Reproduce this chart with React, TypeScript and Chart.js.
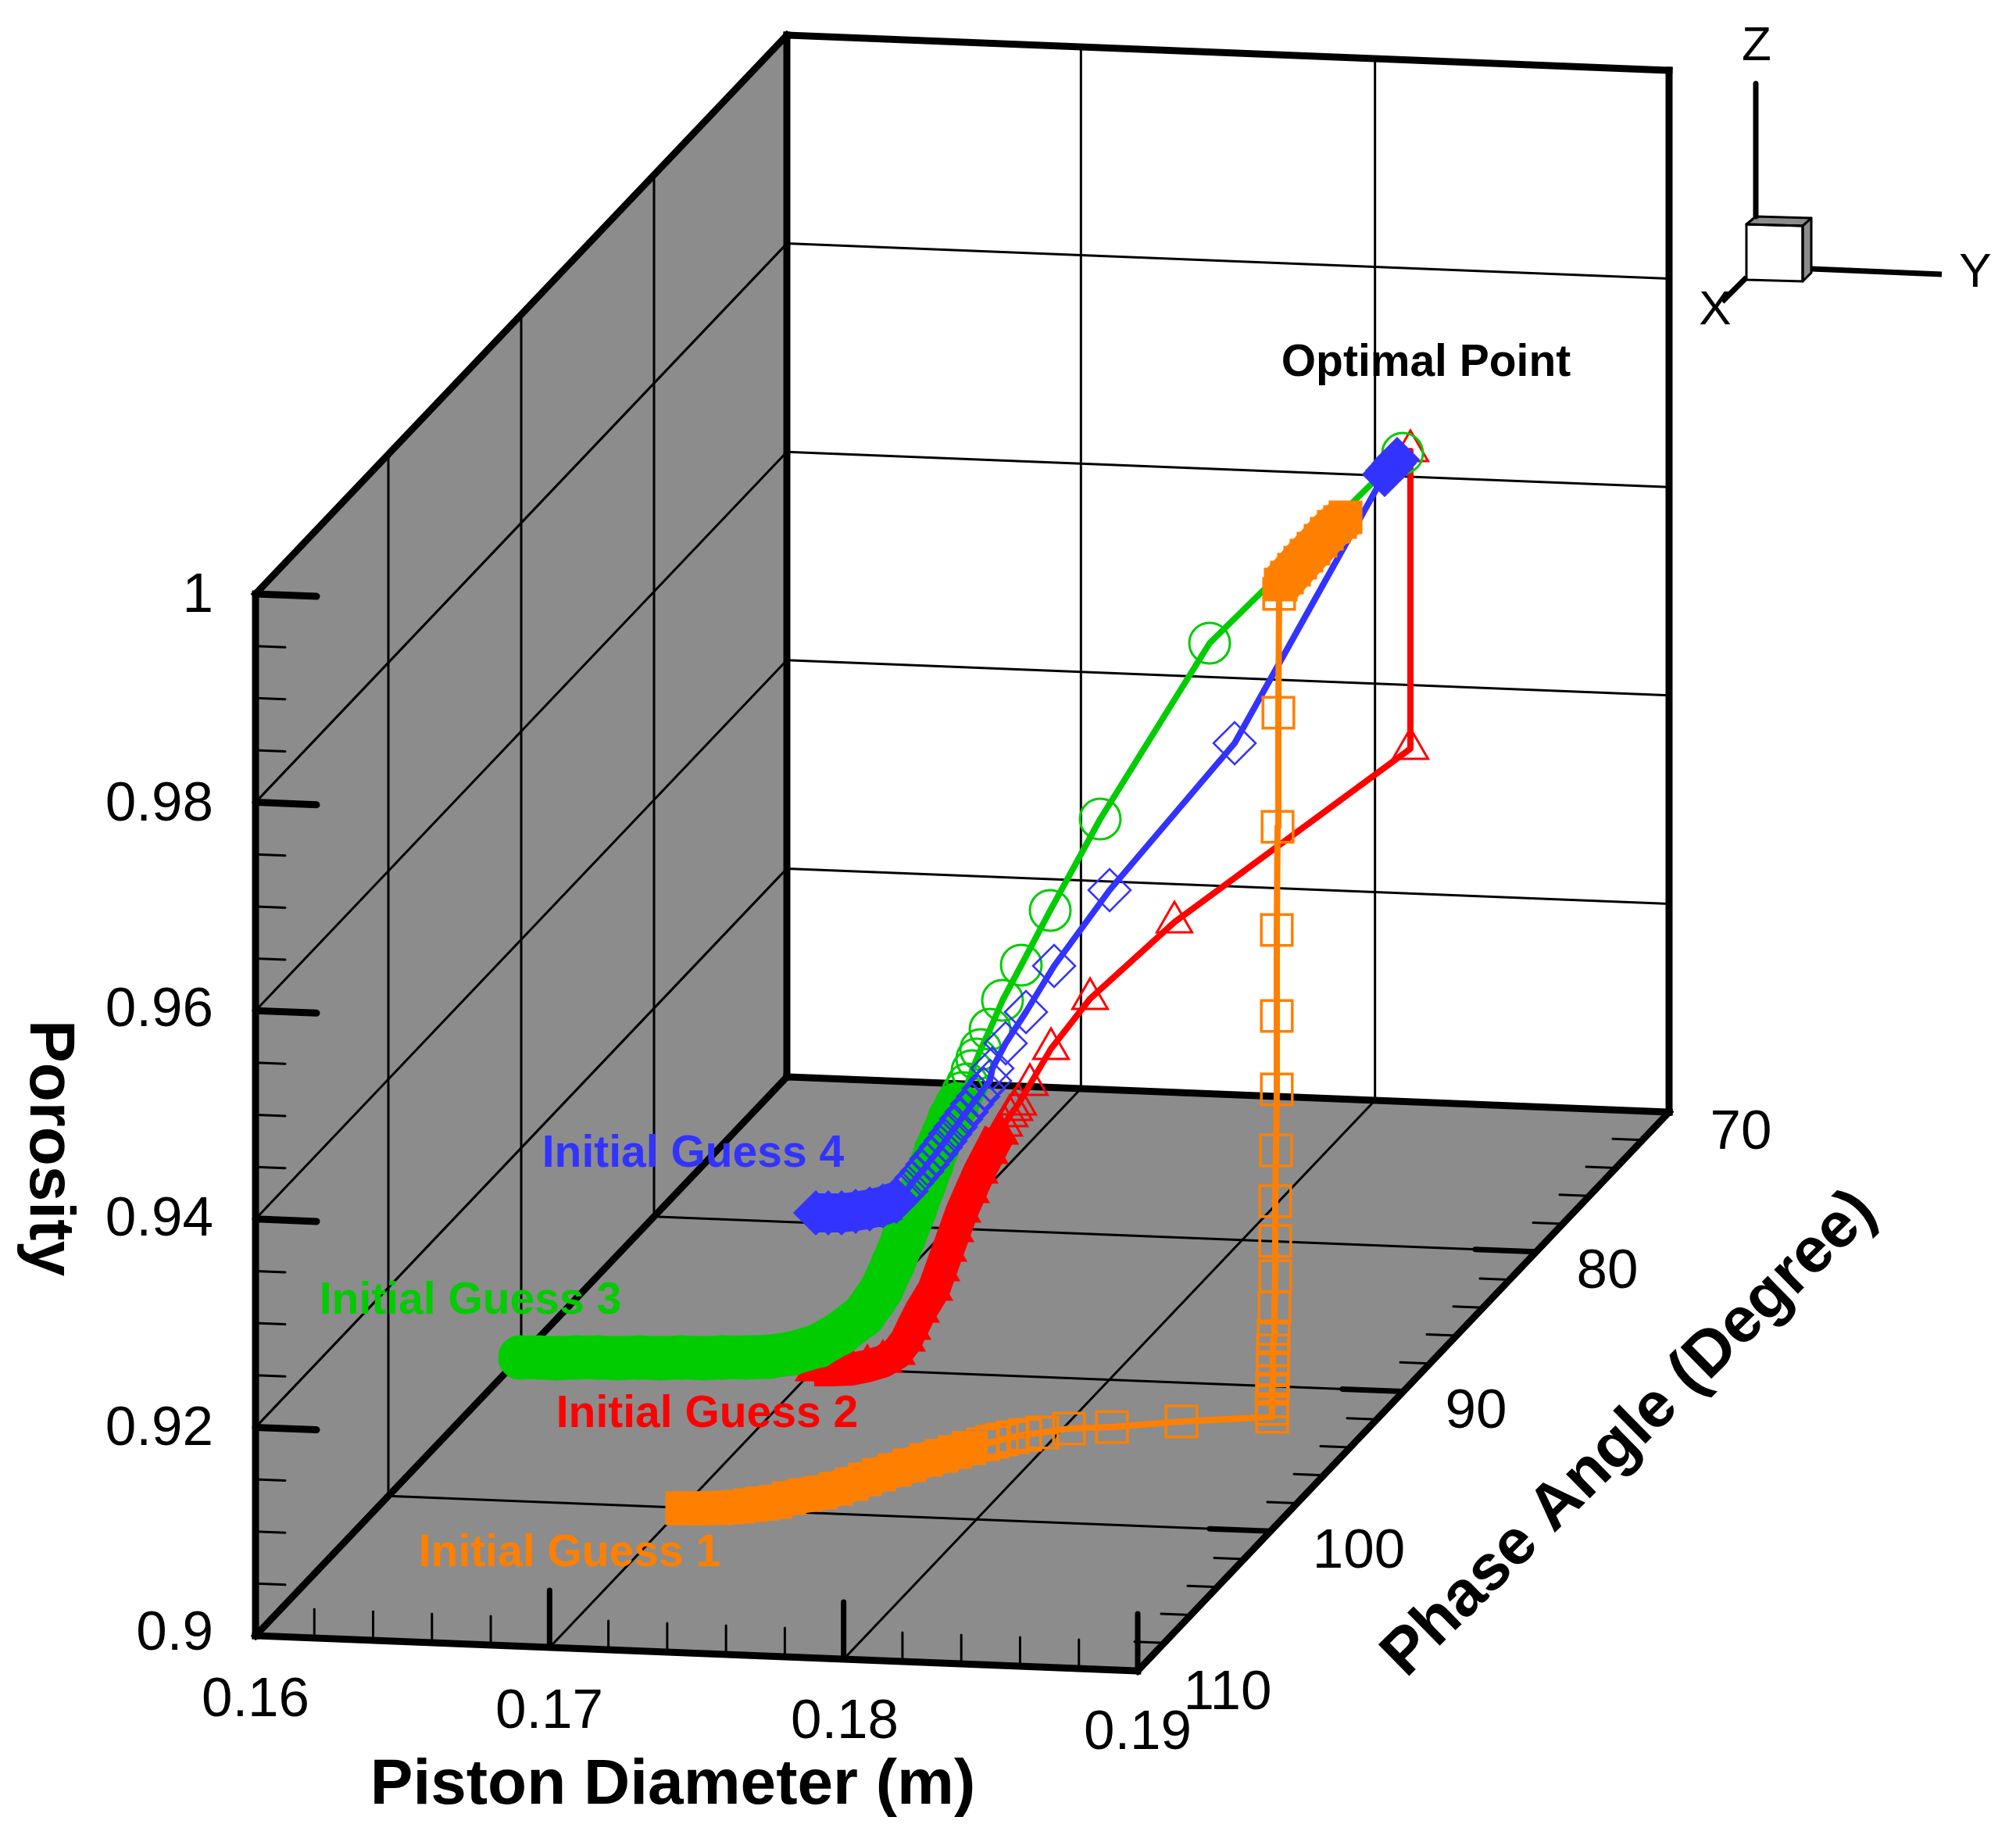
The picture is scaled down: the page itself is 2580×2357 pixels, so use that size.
import React, { useEffect, useRef } from "react";
import { Chart, registerables } from "chart.js";

Chart.register(...registerables);

// ---- axis values -------------------------------------------------------
const diameterTicks = [0.16, 0.17, 0.18, 0.19];
const phaseTicks = [70, 80, 90, 100, 110];
const porosityTicks = [0.9, 0.92, 0.94, 0.96, 0.98, 1];
const diameterLabels = ["0.16", "0.17", "0.18", "0.19"];
const phaseLabels = ["70", "80", "90", "100", "110"];
const porosityLabels = ["0.9", "0.92", "0.94", "0.96", "0.98", "1"];

// ---- trajectories (the plot is a parallel projection) ----
// Initial Guess 1
const guess1FlatX = [873, 885, 900, 915, 930, 945, 960, 975];
const guess1FlatY = [1930, 1930, 1930, 1930, 1929, 1928, 1926, 1924];
const guess1BandX = [975, 992, 1010, 1030, 1050, 1070, 1090, 1107, 1125, 1145, 1164, 1185, 1205, 1222, 1240];
const guess1BandY = [1924, 1922, 1917, 1913, 1910, 1905, 1899, 1893, 1887, 1881, 1875, 1868, 1863, 1858, 1853];
const guess1OpenX = [1240, 1258, 1270, 1282, 1296, 1312, 1334, 1368, 1423, 1512, 1628, 1628, 1628, 1628, 1629, 1629, 1629, 1629, 1630, 1631, 1632, 1632, 1632, 1633, 1634, 1634, 1634, 1635, 1636, 1637];
const guess1OpenY = [1853, 1848, 1845, 1842, 1839, 1836, 1833, 1828, 1826, 1819, 1813, 1803, 1793, 1777, 1767, 1752, 1740, 1728, 1710, 1673, 1633, 1588, 1537, 1472, 1394, 1300, 1190, 1058, 912, 760];
const guess1EndX = [1639, 1647, 1656, 1664, 1672, 1681, 1690, 1698, 1707, 1715, 1722];
const guess1EndY = [748, 739, 729, 720, 711, 702, 692, 683, 674, 668, 662];
// Initial Guess 2
const guess2BandX = [1042, 1065, 1090, 1110, 1130, 1147, 1160, 1167, 1178, 1195, 1204, 1213, 1222, 1231, 1242, 1253, 1266, 1279];
const guess2BandY = [1753, 1753, 1752, 1748, 1742, 1732, 1715, 1700, 1678, 1650, 1625, 1600, 1575, 1550, 1525, 1500, 1475, 1450];
const guess2OpenX = [1279, 1285, 1292, 1298, 1303, 1318, 1345, 1395, 1503, 1805, 1805];
const guess2OpenY = [1450, 1440, 1428, 1420, 1413, 1388, 1342, 1278, 1180, 958, 577];
// Initial Guess 3
const guess3BandX = [666, 690, 712, 738, 765, 790, 818, 845, 872, 900, 925, 955, 984, 1013, 1047, 1075, 1105, 1118, 1128, 1143, 1157, 1170, 1182, 1192, 1198, 1208, 1216, 1225];
const guess3BandY = [1737, 1737, 1738, 1737, 1737, 1738, 1737, 1738, 1737, 1738, 1737, 1737, 1736, 1732, 1722, 1706, 1683, 1665, 1650, 1617, 1583, 1550, 1517, 1490, 1472, 1450, 1430, 1413];
const guess3OpenX = [1225, 1232, 1238, 1244, 1250, 1255, 1267, 1283, 1307, 1344, 1408, 1548, 1795];
const guess3OpenY = [1413, 1398, 1387, 1370, 1355, 1343, 1317, 1280, 1235, 1165, 1048, 823, 580];
// Initial Guess 4
const guess4BandX = [1044, 1060, 1077, 1095, 1113, 1130, 1147];
const guess4BandY = [1552, 1552, 1552, 1550, 1547, 1543, 1537];
const guess4OpenX = [1147, 1153, 1160, 1167, 1173, 1180, 1187, 1192, 1198, 1204, 1210, 1216, 1223, 1230, 1237, 1244, 1252, 1259, 1267, 1270, 1287, 1313, 1349, 1420, 1580, 1772];
const guess4OpenY = [1537, 1531, 1524, 1514, 1507, 1499, 1490, 1483, 1476, 1468, 1460, 1451, 1442, 1432, 1423, 1413, 1403, 1393, 1383, 1367, 1335, 1295, 1236, 1139, 951, 607];
const guess4EndX = [1772, 1776, 1780, 1784, 1788];
const guess4EndY = [607, 602, 598, 593, 588];

// ---- styles ------------------------------------------------------------
const ORANGE = "#ff8000";
const RED = "#ff0000";
const GREEN = "#00cc00";
const BLUE = "#3333ff";
const WALL = "#8c8c8c";
const FONT = '"Liberation Sans", Arial, sans-serif';
const W = 2580;
const H = 2357;

// parallel projection of the 3D box on to the picture plane
const project = (d: number, p: number, z: number) => {
  const xf = (d - 0.16) / 0.03;
  const yf = (110 - p) / 40;
  const zf = (z - 0.9) / 0.1;
  return { x: 327 + 1129 * xf + 680 * yf, y: 2093 + 45 * xf - 715 * yf - 1333 * zf };
};
const pts = (xs: number[], ys: number[]) => xs.map((x, i) => ({ x, y: ys[i] }));

const seg = (data: { x: number; y: number }[], width: number, color = "#000", cap = "round") => ({
  type: "scatter",
  data,
  showLine: true,
  borderColor: color,
  borderWidth: width,
  borderCapStyle: cap,
  borderJoinStyle: "round",
  tension: 0,
  pointRadius: 0,
  pointHoverRadius: 0,
});

const markerLine = (
  data: { x: number; y: number }[],
  color: string,
  style: string,
  radius: number,
  lineWidth: number,
  markerWidth: number,
  fill: boolean,
  cap = "round",
) => ({
  type: "scatter",
  data,
  showLine: true,
  borderColor: color,
  borderWidth: lineWidth,
  borderCapStyle: cap,
  borderJoinStyle: "round",
  tension: 0,
  pointStyle: style,
  pointRadius: radius,
  pointHoverRadius: radius,
  pointBorderColor: color,
  pointBorderWidth: markerWidth,
  pointBackgroundColor: fill ? color : "rgba(0,0,0,0)",
});

const seriesDatasets = () => {
  const guess1Open = pts(guess1OpenX, guess1OpenY);
  const guess1Flat = pts(guess1FlatX, guess1FlatY);
  const guess1Band = pts(guess1BandX, guess1BandY);
  const guess1End = pts(guess1EndX, guess1EndY);
  const guess2Open = pts(guess2OpenX, guess2OpenY);
  const guess2Band = pts(guess2BandX, guess2BandY);
  const guess3Open = pts(guess3OpenX, guess3OpenY);
  const guess3Band = pts(guess3BandX, guess3BandY);
  const guess4Open = pts(guess4OpenX, guess4OpenY);
  const guess4Band = pts(guess4BandX, guess4BandY);
  const guess4End = pts(guess4EndX, guess4EndY);
  return [
    // first listed is drawn on top
    markerLine(guess1Open, ORANGE, "rect", 28, 8, 3.5, false),
    markerLine(guess1End, ORANGE, "rect", 28, 54, 3.5, true, "butt"),
    markerLine(guess1Band, ORANGE, "rect", 28, 46, 3.5, true, "butt"),
    markerLine(guess1Flat, ORANGE, "rect", 28, 38, 3.5, true, "butt"),
    markerLine(guess4End, BLUE, "rectRot", 27, 38, 3, true, "butt"),
    markerLine([guess4Open[guess4Open.length - 1], guess4End[guess4End.length - 1]], BLUE, "rectRot", 0, 7, 3, false),
    markerLine(guess4Open, BLUE, "rectRot", 27, 8, 2.5, false),
    markerLine(guess4Band, BLUE, "rectRot", 27, 50, 3, true, "butt"),
    markerLine(guess3Open, GREEN, "circle", 26, 8, 3, false),
    markerLine(guess3Band, GREEN, "circle", 27, 56, 3, true),
    markerLine(guess2Open, RED, "triangle", 26, 8, 3, false),
    markerLine(guess2Band, RED, "triangle", 26, 42, 3, true, "butt"),
  ];
};

const frameDatasets = () => {
  const out: any[] = [];
  const edge = (a: number[], b: number[]) =>
    out.push(seg([project(a[0], a[1], a[2]), project(b[0], b[1], b[2])], 9, "#000", "square"));
  const dMin = 0.16, dMax = 0.19, pFront = 110, pBack = 70, zMin = 0.9, zMax = 1;

  // box edges
  edge([dMin, pFront, zMin], [dMax, pFront, zMin]);
  edge([dMax, pFront, zMin], [dMax, pBack, zMin]);
  edge([dMax, pBack, zMin], [dMin, pBack, zMin]);
  edge([dMin, pBack, zMin], [dMin, pFront, zMin]);
  edge([dMin, pFront, zMin], [dMin, pFront, zMax]);
  edge([dMin, pFront, zMax], [dMin, pBack, zMax]);
  edge([dMin, pBack, zMax], [dMin, pBack, zMin]);
  edge([dMin, pBack, zMax], [dMax, pBack, zMax]);
  edge([dMax, pBack, zMax], [dMax, pBack, zMin]);

  // major and minor ticks
  const dTickLen = 78 / 1129 * 0.03;
  const dMinorLen = 38 / 1129 * 0.03;
  const zTickLen = 73 / 1333 * 0.1;
  const zMinorLen = 37 / 1333 * 0.1;
  for (let i = 0; i <= 15; i++) {
    const d = 0.16 + i * 0.002;
    const major = i % 5 === 0;
    if (i > 0) out.push(seg([project(d, pFront, zMin), project(d, pFront, zMin + (major ? zTickLen : zMinorLen))], major ? 7 : 3));
  }
  for (let i = 1; i < 20; i++) {
    const p = 70 + i * 2;
    const major = i % 5 === 0;
    out.push(seg([project(dMax, p, zMin), project(dMax - (major ? dTickLen : dMinorLen), p, zMin)], major ? 7 : 3));
  }
  for (let i = 0; i < 20; i++) {
    const z = 0.9 + i * 0.005;
    const major = i % 4 === 0;
    if (i > 0) out.push(seg([project(dMin, pFront, z), project(dMin + (major ? dTickLen : dMinorLen), pFront, z)], major ? 9 : 3));
  }
  out.push(seg([project(dMin, pFront, zMax), project(dMin + dTickLen, pFront, zMax)], 9));

  // grid lines
  const inner = <T,>(a: T[]) => a.slice(1, a.length - 1);
  for (const z of inner(porosityTicks)) {
    out.push(seg([project(dMin, pFront, z), project(dMin, pBack, z)], 3));
    out.push(seg([project(dMin, pBack, z), project(dMax, pBack, z)], 3));
  }
  for (const p of inner(phaseTicks)) {
    out.push(seg([project(dMin, p, zMin), project(dMin, p, zMax)], 3));
    out.push(seg([project(dMin, p, zMin), project(dMax, p, zMin)], 3));
  }
  for (const d of inner(diameterTicks)) {
    out.push(seg([project(d, pBack, zMin), project(d, pBack, zMax)], 3));
    out.push(seg([project(d, pFront, zMin), project(d, pBack, zMin)], 3));
  }
  return out;
};

// orientation triad, top right
const triadZ = [{ x: 2247, y: 107 }, { x: 2247, y: 277 }];
const triadY = [{ x: 2318, y: 344 }, { x: 2485, y: 351 }];
const triadX = [{ x: 2235, y: 355 }, { x: 2204, y: 386 }];
const cubeFront = [{ x: 2235, y: 287 }, { x: 2307, y: 289 }, { x: 2307, y: 360 }, { x: 2235, y: 358 }, { x: 2235, y: 287 }];
const cubeTop = [{ x: 2235, y: 287 }, { x: 2247, y: 277 }, { x: 2318, y: 279 }, { x: 2307, y: 289 }];
const cubeSide = [{ x: 2307, y: 289 }, { x: 2318, y: 279 }, { x: 2318, y: 349 }, { x: 2307, y: 360 }];

const triadDatasets = () => [
  seg(triadZ, 7, "#000", "butt"),
  seg(triadY, 7, "#000", "butt"),
  seg(triadX, 7, "#000", "butt"),
  seg(cubeFront, 3),
  seg([...cubeTop, cubeTop[0]], 3),
  seg([...cubeSide, cubeSide[0]], 3),
];

const surfacePlugin = {
  id: "surfaces",
  beforeDatasetsDraw(chart: any) {
    const { ctx, scales } = chart;
    const poly = (list: { x: number; y: number }[], color: string) => {
      ctx.beginPath();
      list.forEach((p, i) => {
        const px = scales.x.getPixelForValue(p.x);
        const py = scales.y.getPixelForValue(p.y);
        if (i === 0) ctx.moveTo(px, py);
        else ctx.lineTo(px, py);
      });
      ctx.closePath();
      ctx.fillStyle = color;
      ctx.fill();
    };
    ctx.save();
    poly([project(0.16, 110, 0.9), project(0.16, 70, 0.9), project(0.16, 70, 1), project(0.16, 110, 1)], WALL);
    poly([project(0.16, 110, 0.9), project(0.19, 110, 0.9), project(0.19, 70, 0.9), project(0.16, 70, 0.9)], WALL);
    poly(cubeTop, WALL);
    poly(cubeSide, WALL);
    ctx.restore();
  },
};

const diameterLabelAt = [{ x: 327, y: 2176 }, { x: 703, y: 2191 }, { x: 1081, y: 2204 }, { x: 1456, y: 2218 }];
const phaseLabelAt = [{ x: 2228, y: 1450 }, { x: 2057, y: 1628 }, { x: 1889, y: 1807 }, { x: 1739, y: 1986 }, { x: 1571, y: 2167 }];
const porosityLabelAt = [{ x: 273, y: 2091 }, { x: 273, y: 1829 }, { x: 273, y: 1561 }, { x: 273, y: 1293 }, { x: 273, y: 1030 }, { x: 273, y: 763 }];

const textPlugin = {
  id: "texts",
  afterDatasetsDraw(chart: any) {
    const { ctx, scales } = chart;
    const put = (t: string, x: number, y: number, font: string, color = "#000", align = "center", rot = 0) => {
      ctx.save();
      ctx.translate(scales.x.getPixelForValue(x), scales.y.getPixelForValue(y));
      ctx.rotate(rot);
      ctx.font = font;
      ctx.fillStyle = color;
      ctx.textAlign = align;
      ctx.textBaseline = "middle";
      ctx.fillText(t, 0, 0);
      ctx.restore();
    };
    const tick = `71px ${FONT}`;
    diameterLabels.forEach((t, i) => put(t, diameterLabelAt[i].x, diameterLabelAt[i].y, tick));
    phaseLabels.forEach((t, i) => put(t, phaseLabelAt[i].x, phaseLabelAt[i].y, tick));
    porosityLabels.forEach((t, i) => put(t, porosityLabelAt[i].x, porosityLabelAt[i].y, tick, "#000", "right"));
    const title = `bold 82px ${FONT}`;
    put("Piston Diameter (m)", 861, 2285, title);
    put("Porosity", 62, 1469, title, "#000", "center", Math.PI / 2);
    put("Phase Angle (Degree)", 2086, 1835, title, "#000", "center", (-44.5 * Math.PI) / 180);
    const note = `bold 57px ${FONT}`;
    put("Initial Guess 4", 887, 1477, note, BLUE);
    put("Initial Guess 3", 602, 1665, note, GREEN);
    put("Initial Guess 2", 905, 1810, note, RED);
    put("Initial Guess 1", 729, 1988, note, ORANGE);
    put("Optimal Point", 1825, 465, `bold 57px ${FONT}`);
    const axis = `62px ${FONT}`;
    put("Z", 2248, 60, axis);
    put("Y", 2528, 350, axis);
    put("X", 2195, 398, axis);
  },
};

export default function App() {
  const ref = useRef<HTMLCanvasElement | null>(null);
  useEffect(() => {
    if (!ref.current) return;
    const chart = new Chart(ref.current, {
      type: "scatter",
      data: { datasets: [...seriesDatasets(), ...frameDatasets(), ...triadDatasets()] as any },
      options: {
        animation: false,
        responsive: false,
        devicePixelRatio: 1,
        layout: { padding: 0, autoPadding: false },
        events: [],
        plugins: { legend: { display: false }, tooltip: { enabled: false } },
        scales: {
          x: { type: "linear", display: false, min: 0, max: W },
          y: { type: "linear", display: false, min: 0, max: H, reverse: true },
        },
      },
      plugins: [surfacePlugin, textPlugin],
    } as any);
    return () => chart.destroy();
  }, []);
  return (
    <canvas
      ref={ref}
      width={W}
      height={H}
      style={{ position: "absolute", left: 0, top: 0, display: "block", background: "#fff" }}
    />
  );
}
